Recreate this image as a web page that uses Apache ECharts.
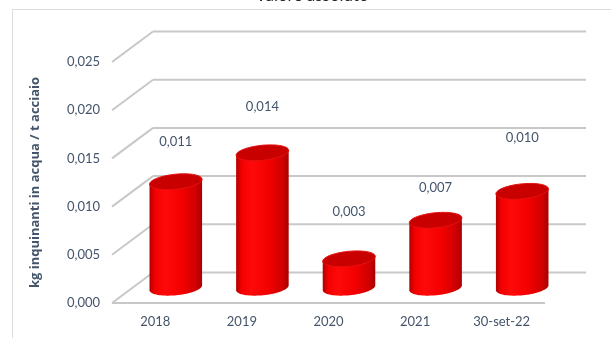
<!DOCTYPE html>
<html>
<head>
<meta charset="utf-8">
<script src="https://cdn.jsdelivr.net/npm/echarts@6/dist/echarts.min.js"></script>
<style>
  html, body { margin: 0; padding: 0; background: #fff; }
  #chart { width: 611px; height: 338px; }
</style>
</head>
<body>
<div id="chart"></div>
<script>
// Values
const categories = ['2018', '2019', '2020', '2021', '30-set-22'];
const values = [0.011, 0.014, 0.003, 0.007, 0.010];
const yTicks = [0, 0.005, 0.010, 0.015, 0.020, 0.025];

// Layout: how far each value label floats above its cylinder top (px)
const labelRise = [40, 46, 47, 32, 54];

// Pseudo-3D projection: offset from the front plane to the back wall
const DEPTH_X = 41, DEPTH_Y = -30.5;
const TILT = -0.1;          // slant of the cylinder ellipses
const TEXT = '#44546A';
const FONT = 'Lato';
const GRID_LINE = '#c8c8c8';

const fmt = v => v.toFixed(3).replace('.', ',');

function ellipsePt(cx, cy, rx, ry, t) {
  const c = Math.cos(t), s = Math.sin(t);
  return [cx + rx * c * Math.cos(TILT) - ry * s * Math.sin(TILT),
          cy + rx * c * Math.sin(TILT) + ry * s * Math.cos(TILT)];
}
function ellipsePts(cx, cy, rx, ry) {
  const pts = [];
  for (let k = 0; k < 60; k++) pts.push(ellipsePt(cx, cy, rx, ry, k / 60 * 2 * Math.PI));
  return pts;
}

// Back wall, left wall and floor edges for every tick
function renderWall(params, api) {
  const cs = params.coordSys;
  const v = api.value(1);
  const y = api.coord([0, v])[1];
  const style = { stroke: GRID_LINE, lineWidth: 2, fill: null };
  const x0 = cs.x, x1 = cs.x + cs.width;
  const children = [
    { type: 'line', shape: { x1: x0, y1: y, x2: x0 + DEPTH_X, y2: y + DEPTH_Y }, style },
    { type: 'line', shape: { x1: x0 + DEPTH_X, y1: y + DEPTH_Y, x2: x1 + DEPTH_X, y2: y + DEPTH_Y }, style }
  ];
  if (v === 0) {
    children.push({ type: 'line', shape: { x1: x0, y1: y, x2: x1, y2: y }, style });
  }
  return { type: 'group', children };
}

// Cylinder column with its value label
function renderCylinder(params, api) {
  const i = api.value(0), v = api.value(1);
  const top = api.coord([i, v]);
  const base = api.coord([i, 0]);
  const cx = top[0] + DEPTH_X / 2;
  const ty = top[1] + DEPTH_Y / 2;
  const by = base[1] + DEPTH_Y / 2;
  const rx = api.size([1, 0])[0] * 0.305;
  const ry = 7.5;

  const body = [ellipsePt(cx, ty, rx, ry, Math.PI)];
  for (let k = 0; k <= 40; k++) body.push(ellipsePt(cx, by, rx, ry, Math.PI - k / 40 * Math.PI));
  body.push(ellipsePt(cx, ty, rx, ry, 0));

  return {
    type: 'group',
    children: [
      {
        type: 'polygon',
        shape: { points: body },
        style: {
          fill: {
            type: 'linear', x: 0, y: 0, x2: 1, y2: 0,
            colorStops: [
              { offset: 0, color: '#b00000' },
              { offset: 0.1, color: '#f20000' },
              { offset: 0.3, color: '#ff0a0a' },
              { offset: 0.6, color: '#f50000' },
              { offset: 0.88, color: '#d00000' },
              { offset: 1, color: '#a80000' }
            ]
          }
        }
      },
      {
        type: 'polygon',
        shape: { points: ellipsePts(cx, ty, rx, ry) },
        style: { fill: '#c80000', stroke: '#e81010', lineWidth: 1 }
      },
      {
        type: 'text',
        x: cx,
        y: ty - labelRise[i],
        style: {
          text: fmt(v),
          fill: TEXT,
          font: '13px ' + FONT,
          textAlign: 'center',
          textVerticalAlign: 'middle'
        }
      }
    ]
  };
}

const chart = echarts.init(document.getElementById('chart'), null, { renderer: 'canvas' });

chart.setOption({
  animation: false,
  backgroundColor: '#ffffff',
  title: {
    text: 'Valore assoluto',
    left: 312,
    textAlign: 'center',
    top: -13,
    padding: 0,
    textStyle: { fontFamily: FONT, fontSize: 17, fontWeight: 'normal', color: '#262626' }
  },
  graphic: [
    {
      type: 'rect',
      shape: { x: 12.5, y: 9.5, width: 700, height: 400 },
      style: { fill: null, stroke: '#dcdcdc', lineWidth: 1 },
      silent: true,
      z: -10
    }
  ],
  grid: { left: 112, right: 66, top: 62, bottom: 35 },
  xAxis: {
    type: 'category',
    data: categories,
    axisLine: { show: false },
    axisTick: { show: false },
    axisLabel: { margin: 12, color: TEXT, fontFamily: FONT, fontSize: 13 },
    splitLine: { show: false }
  },
  yAxis: {
    type: 'value',
    min: 0,
    max: 0.025,
    interval: 0.005,
    name: 'kg inquinanti in acqua / t acciaio',
    nameLocation: 'middle',
    nameRotate: 90,
    nameGap: 70,
    nameTextStyle: { color: TEXT, fontFamily: 'Open Sans', fontSize: 13, fontWeight: 'bold' },
    axisLine: { show: false },
    axisTick: { show: false },
    splitLine: { show: false },
    axisLabel: { margin: 12, color: TEXT, fontFamily: FONT, fontSize: 13, formatter: fmt }
  },
  series: [
    {
      type: 'custom',
      renderItem: renderWall,
      data: yTicks.map(v => [0, v]),
      silent: true,
      z: 1
    },
    {
      type: 'custom',
      renderItem: renderCylinder,
      data: values.map((v, i) => [i, v]),
      z: 5
    }
  ]
});
</script>
</body>
</html>
